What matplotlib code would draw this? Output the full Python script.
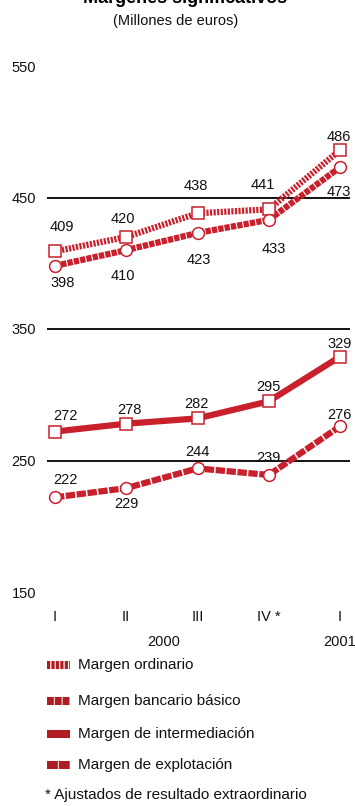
import matplotlib
matplotlib.use("Agg")
import matplotlib.pyplot as plt
from matplotlib.lines import Line2D

plt.rcParams['font.family'] = ['Liberation Sans', 'DejaVu Sans']

quarters = ["I", "II", "III", "IV *", "I"]
years = ["2000", "2001"]
year_pos = [1.52, 4.0]
yticks = [150, 250, 350, 450, 550]
gridlines = [250, 350, 450]

ordinario = [409, 420, 438, 441, 486]
bancario = [398, 410, 423, 433, 473]
intermediacion = [272, 278, 282, 295, 329]
explotacion = [222, 229, 244, 239, 276]

series_names = ["Margen ordinario", "Margen bancario básico",
                "Margen de intermediación", "Margen de explotación"]
footnote = "* Ajustados de resultado extraordinario"

line_red = "#C8202C"
legend_red = "#B01C24"
text_col = "#111111"

fig = plt.figure(figsize=(3.55, 8.06), dpi=100)
W, H = 355, 806
ax = fig.add_axes([47 / W, 1 - 592 / H, 303 / W, 526 / H])
ax.set_xlim(-0.112, 4.14)
ax.set_ylim(150, 550)

x = list(range(len(quarters)))

for g in gridlines:
    ax.axhline(g, color="black", lw=1.3, zorder=1)

# line style and marker per series
styles = [
    (ordinario, (0, (0.35, 0.22)), "s"),
    (bancario, (0, (0.85, 0.18)), "o"),
    (intermediacion, "-", "s"),
    (explotacion, (0, (1.5, 0.25)), "o"),
]
for vals, ls, mk in styles:
    ax.plot(x, vals, color=line_red, lw=4.5, ls=ls, zorder=2,
            solid_capstyle="butt")
    ax.plot(x, vals, ls="none", marker=mk, ms=8.5, mfc="white", mec=line_red,
            mew=1.1, zorder=3)

fs = 10.5
# label offsets in pixels (dx, dy), dy positive upwards
off_ord = [(7, 24), (-3, 18), (-2, 27), (-6, 24), (-1, 13)]
off_ban = [(8, -17), (-3, -26), (1, -27), (5, -29), (-1, -25)]
off_int = [(10, 16), (3, 14), (-1, 14), (0, 14), (0, 13)]
off_exp = [(10, 17), (0, -16), (0, 16), (0, 17), (-1, 11)]
for vals, offs in [(ordinario, off_ord), (bancario, off_ban),
                   (intermediacion, off_int), (explotacion, off_exp)]:
    for xi, v, (dx, dy) in zip(x, vals, offs):
        ax.annotate(str(v), (xi, v), xytext=(dx, dy), textcoords="offset pixels",
                    ha="center", va="center", fontsize=fs, color=text_col,
                    zorder=4)

ax.set_yticks(yticks)
ax.set_yticklabels([str(t) for t in yticks], fontsize=fs, color=text_col)
ax.set_xticks(x)
ax.set_xticklabels(quarters, fontsize=fs, color=text_col)
ax.tick_params(axis="both", length=0)
ax.tick_params(axis="y", pad=8)
ax.tick_params(axis="x", pad=13)
for s in ax.spines.values():
    s.set_visible(False)

for lab, xd in zip(years, year_pos):
    ax.annotate(lab, (xd, 150), xytext=(0, -50), textcoords="offset pixels",
                ha="center", va="center", fontsize=fs, color=text_col,
                annotation_clip=False)

fig.text(185 / W, 1 - 3 / H, "Márgenes significativos", ha="center",
         va="baseline", fontsize=13, fontweight="bold")
fig.text(176 / W, 1 - 21 / H, "(Millones de euros)", ha="center",
         va="center", fontsize=fs, color=text_col)

# legend drawn by hand: swatch + label per row
legend_styles = [(0, (0.4, 0.15)), (0, (0.85, 0.12)), "-", (0, (1.35, 0.12))]
row_y = [665, 701, 734, 765]
for name, ls, yy in zip(series_names, legend_styles, row_y):
    yf = 1 - yy / H
    fig.add_artist(Line2D([47 / W, 70 / W], [yf, yf], transform=fig.transFigure,
                          color=legend_red, lw=5.8, ls=ls,
                          solid_capstyle="butt", dash_capstyle="butt"))
    fig.text(78 / W, yf, name, ha="left", va="center", fontsize=11,
             color=text_col)

fig.text(45 / W, 1 - 795 / H, footnote, ha="left", va="center", fontsize=11,
         color=text_col)

fig.savefig("out.png", dpi=100)
